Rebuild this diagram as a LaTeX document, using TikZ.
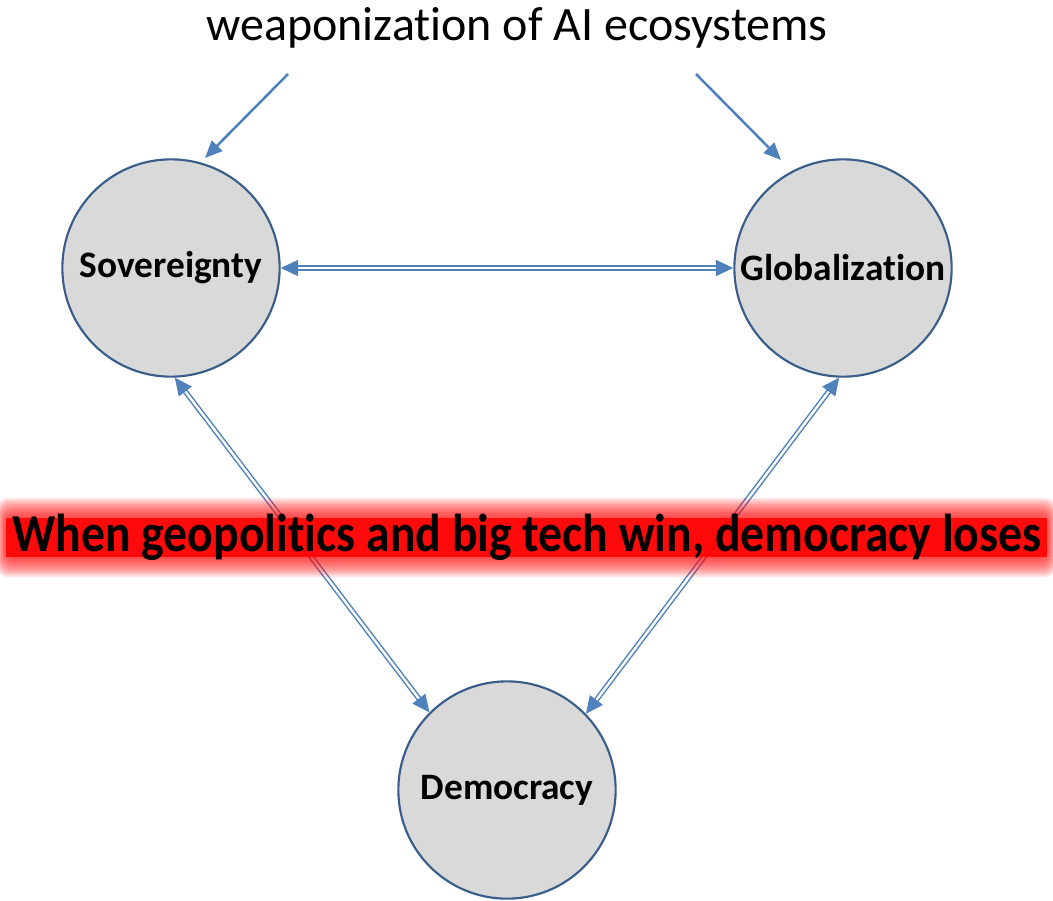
\documentclass[tikz,border=0pt]{standalone}
\usepackage{fontspec}
\setmainfont{Carlito}[Ligatures=NoCommon]
\usetikzlibrary{arrows.meta}
\definecolor{arrowblue}{HTML}{4F81BD}
\definecolor{circborder}{HTML}{385D8A}
\definecolor{circfill}{HTML}{D9D9D9}
\definecolor{glowred}{HTML}{FF0000}
\begin{document}
\begin{tikzpicture}[x=0.75pt,y=-0.75pt,
  topic/.style={circle, draw=circborder, line width=1.6pt, fill=circfill, minimum size=163pt, inner sep=0pt, font=\bfseries\fontsize{28}{32}\selectfont},
  feed/.style={draw=arrowblue, line width=1.9pt, -{Triangle[length=13pt,width=11pt]}},
  link/.style={draw=arrowblue, double=white, double distance=1.8pt, line width=1.1pt, {Triangle[length=13pt,width=12pt]}-{Triangle[length=13pt,width=12pt]}}]
\useasboundingbox (0,0) rectangle (1053,900);
\node (title) at (517,28) {\fontsize{36}{42}\selectfont weaponization of AI ecosystems};
\node[topic] (sov) at (171,268) {Sovereignty};
\node[topic] (glob) at (843,268) {Globalization};
\node[topic] (dem) at (507,790) {Democracy};
\coordinate (fromL) at (288,74);
\coordinate (fromR) at (696,74);
\coordinate (toL) at (205,158);
\coordinate (toR) at (781,160);
\draw[feed] (fromL) -- (toL);
\draw[feed] (fromR) -- (toR);
\draw[link] (sov) -- (glob);
\draw[link] (sov.-88) -- (dem.135);
\draw[link] (glob.-92) -- (dem.44);
\foreach \i in {1,...,10}{
  \fill[glowred, opacity=0.11, rounded corners=8pt] (6-\i*0.9,518-\i*2) rectangle (1047+\i*0.9,557+\i*2);
}
\fill[glowred, opacity=0.88] (6,518) rectangle (1047,557);
\node (banner) at (527,537) {\scalebox{0.895}[1]{\bfseries\fontsize{40}{48}\selectfont When geopolitics and big tech win, democracy loses}};
\end{tikzpicture}
\end{document}
